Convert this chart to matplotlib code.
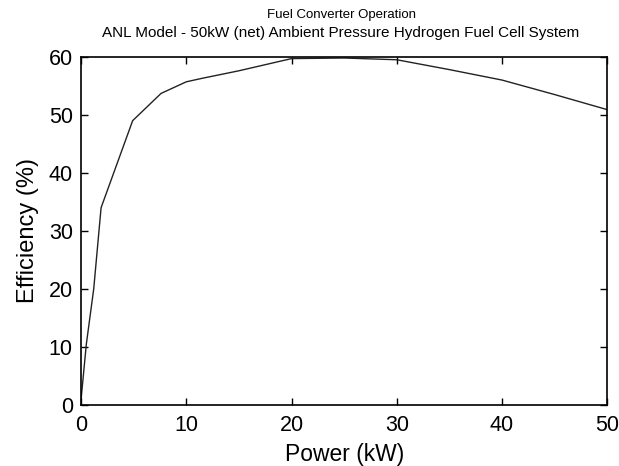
import matplotlib
matplotlib.use('Agg')
import matplotlib.pyplot as plt

# fuel converter efficiency curve
power_kw = [0, 0.5, 1.2, 1.9, 3.1, 4.9, 7.6, 10, 11.5, 15, 20, 25, 30, 35, 40, 45, 50]
efficiency = [1, 10.5, 20, 34, 40, 49, 53.7, 55.7, 56.3, 57.6, 59.7, 59.8, 59.5, 57.8, 56, 53.5, 50.9]

x_ticks = [0, 10, 20, 30, 40, 50]
y_ticks = [0, 10, 20, 30, 40, 50, 60]

title_main = 'Fuel Converter Operation'
title_sub = 'ANL Model - 50kW (net) Ambient Pressure Hydrogen Fuel Cell System'

plt.rcParams['font.family'] = ['Liberation Sans', 'DejaVu Sans']

fig = plt.figure(figsize=(6.19, 4.66), dpi=100)
ax = fig.add_axes([0.131, 0.131, 0.850, 0.747])

ax.plot(power_kw, efficiency, color='#222222', linewidth=1.0)
ax.set_xlim(0, 50)
ax.set_ylim(0, 60)
ax.set_xticks(x_ticks)
ax.set_yticks(y_ticks)
ax.tick_params(direction='in', top=True, right=True, labelsize=15.5, length=5, width=1)
ax.tick_params(axis='x', pad=7)
ax.tick_params(axis='y', pad=6)
for spine in ax.spines.values():
  spine.set_linewidth(1.2)

ax.set_xlabel('Power (kW)', fontsize=16.5, labelpad=5)
ax.set_ylabel('Efficiency (%)', fontsize=17, labelpad=7)

# two title lines, the second one is set wider in the original
fig.text(0.551, 0.968, title_main, fontsize=9.5, ha='center', va='center')
fig.text(0.551, 0.929, title_sub, fontsize=11, ha='center', va='center')

plt.savefig('out.png', dpi=100)
